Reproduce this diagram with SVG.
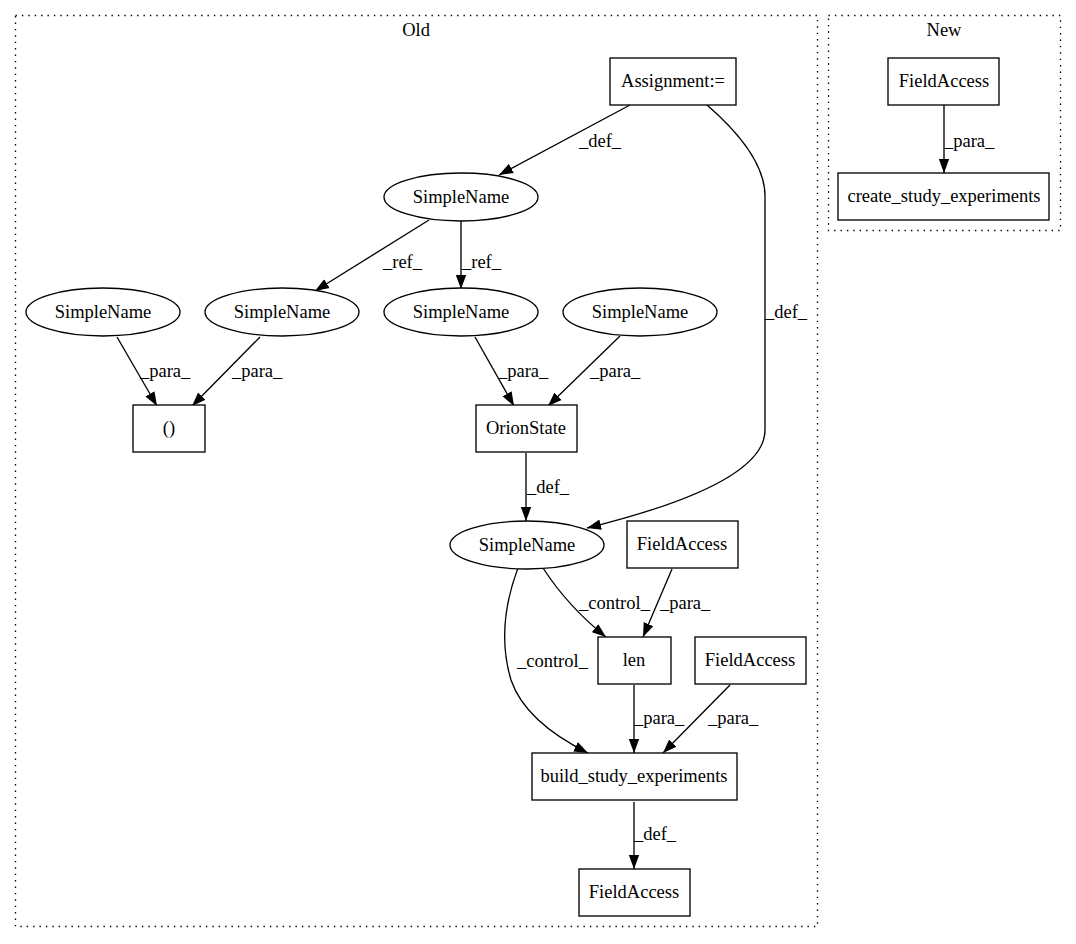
<svg xmlns="http://www.w3.org/2000/svg" width="1076" height="944" viewBox="0 0 1076 944">
<style>
text{font-family:"Liberation Serif","Times New Roman",serif;font-size:18.5px;fill:#000}
.n{text-anchor:middle}
.box{fill:#fff;stroke:#000;stroke-width:1.33}
.cl{fill:none;stroke:#000;stroke-width:1.33;stroke-dasharray:1.4,5}
.e{fill:none;stroke:#000;stroke-width:1.33;marker-end:url(#a)}
</style>
<defs>
<marker id="a" markerWidth="15" markerHeight="12" refX="14" refY="6" orient="auto" markerUnits="userSpaceOnUse"><path d="M0,0.8 L14,6 L0,11.2 z" fill="#000"/></marker>
</defs>
<rect width="1076" height="944" fill="#fff"/>
<g id="cluster_old"><rect class="cl" x="15.5" y="15.5" width="802" height="911"/><text class="n" x="416" y="36">Old</text></g>
<g id="cluster_new"><rect class="cl" x="828.5" y="15.5" width="232" height="215"/><text class="n" x="944" y="36">New</text></g>
<g id="connectors">
<path class="e" d="M630,105 L499,175"/>
<path class="e" d="M707,105 C737,131 765,163 765,196 L765,430 C765,478 660,510 587,528"/>
<path class="e" d="M429,220 L315,291"/>
<path class="e" d="M461,220 L461,289"/>
<path class="e" d="M117,337 L157,406"/>
<path class="e" d="M260,337 L192,406"/>
<path class="e" d="M475,337 L514,406"/>
<path class="e" d="M620,336 L548,406"/>
<path class="e" d="M526,453 L526,521"/>
<path class="e" d="M672,569 L643,637"/>
<path class="e" d="M543,568 C556,588 576,613 606,637"/>
<path class="e" d="M518,568 C506,600 499,640 511,680 C523,715 558,738 588,753"/>
<path class="e" d="M634,685 L634,753"/>
<path class="e" d="M730,685 L663,753"/>
<path class="e" d="M634,802 L634,869"/>
<path class="e" d="M944,105 L944,173"/>
<text x="579" y="147">_def_</text>
<text x="765" y="318">_def_</text>
<text x="383" y="268">_ref_</text>
<text x="462" y="268">_ref_</text>
<text x="140" y="377">_para_</text>
<text x="232" y="377">_para_</text>
<text x="498" y="377">_para_</text>
<text x="590" y="377">_para_</text>
<text x="527" y="493">_def_</text>
<text x="579" y="609">_control_</text>
<text x="660" y="609">_para_</text>
<text x="517" y="667">_control_</text>
<text x="634" y="724">_para_</text>
<text x="708" y="724">_para_</text>
<text x="634" y="840">_def_</text>
<text x="944" y="147">_para_</text>
</g>
<g id="n_assign"><rect class="box" x="610" y="58" width="126" height="47"/><text class="n" x="673" y="87">Assignment:=</text></g>
<g id="n_sn_top"><ellipse class="box" cx="461" cy="197" rx="77" ry="24"/><text class="n" x="461" y="203">SimpleName</text></g>
<g id="n_sn1"><ellipse class="box" cx="103" cy="312" rx="77" ry="24"/><text class="n" x="103" y="318">SimpleName</text></g>
<g id="n_sn2"><ellipse class="box" cx="282" cy="312" rx="77" ry="24"/><text class="n" x="282" y="318">SimpleName</text></g>
<g id="n_sn3"><ellipse class="box" cx="461" cy="312" rx="77" ry="24"/><text class="n" x="461" y="318">SimpleName</text></g>
<g id="n_sn4"><ellipse class="box" cx="640" cy="312" rx="77" ry="24"/><text class="n" x="640" y="318">SimpleName</text></g>
<g id="n_paren"><rect class="box" x="133" y="405" width="72" height="47"/><text class="n" x="169" y="434">()</text></g>
<g id="n_orion"><rect class="box" x="476" y="405" width="101" height="47"/><text class="n" x="526" y="434">OrionState</text></g>
<g id="n_sn_mid"><ellipse class="box" cx="527" cy="545" rx="77" ry="24"/><text class="n" x="527" y="551">SimpleName</text></g>
<g id="n_fa1"><rect class="box" x="627" y="521" width="111" height="47"/><text class="n" x="682" y="550">FieldAccess</text></g>
<g id="n_len"><rect class="box" x="598" y="637" width="73" height="47"/><text class="n" x="634" y="666">len</text></g>
<g id="n_fa2"><rect class="box" x="695" y="637" width="111" height="47"/><text class="n" x="750" y="666">FieldAccess</text></g>
<g id="n_build"><rect class="box" x="532" y="753" width="205" height="47"/><text class="n" x="634" y="782">build_study_experiments</text></g>
<g id="n_fa3"><rect class="box" x="579" y="869" width="111" height="47"/><text class="n" x="634" y="898">FieldAccess</text></g>
<g id="n_new_fa"><rect class="box" x="888" y="58" width="111" height="47"/><text class="n" x="944" y="87">FieldAccess</text></g>
<g id="n_create"><rect class="box" x="838" y="173" width="211" height="47"/><text class="n" x="944" y="202">create_study_experiments</text></g>
</svg>
